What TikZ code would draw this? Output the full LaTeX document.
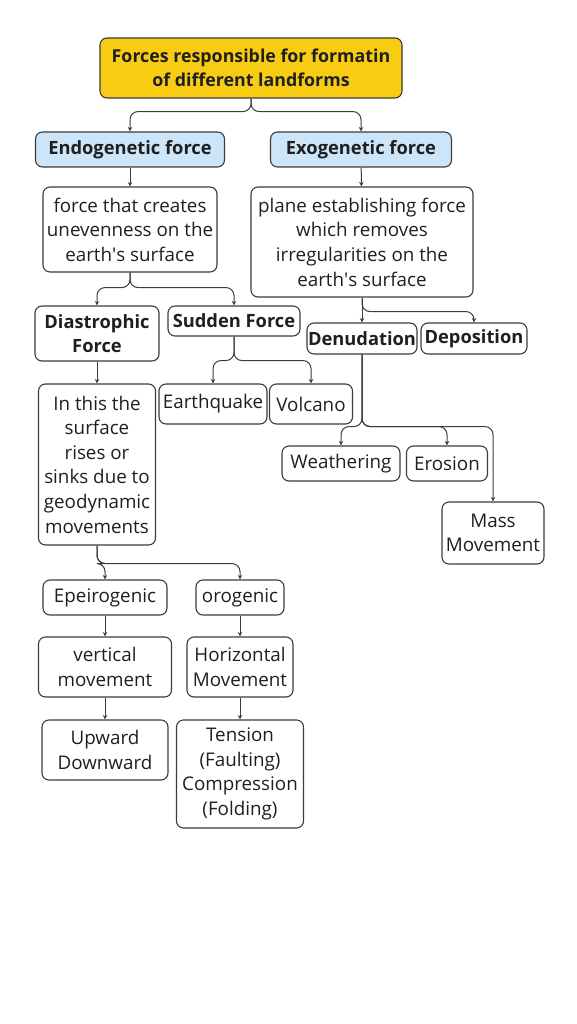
\documentclass[tikz,border=0pt]{standalone}
\usepackage{fontspec}
\setmainfont{Open Sans}
\usepackage{xcolor}
\usetikzlibrary{arrows.meta,positioning}
\definecolor{linegray}{HTML}{3C3C3C}
\definecolor{gold}{HTML}{F9CC14}
\definecolor{softblue}{HTML}{CCE5F8}

\begin{document}
\begin{tikzpicture}[
    x=1pt,y=-1pt,
    box/.style={draw=linegray,line width=1.1pt,rounded corners=7pt,align=center,inner sep=1pt,
      font=\fontsize{18.8}{24.6}\selectfont,text=black!88},
    boldbox/.style={box,font=\fontsize{18.3}{24.6}\selectfont\bfseries},
    topic/.style={boldbox,fill=gold,font=\fontsize{17.8}{24}\selectfont\bfseries},
    kind/.style={boldbox,fill=softblue},
    arr/.style={-{Stealth[length=4.5pt,width=4.5pt]},line width=1pt,draw=linegray},
    fork/.style={arr,rounded corners=8pt}
]
    \useasboundingbox (0,0) rectangle (576,1024);

    \node[topic,minimum width=302,minimum height=60] (title) at (251,68) {Forces responsible for formatin\\of different landforms};
    \node[kind,minimum width=189,minimum height=35] (endo) at (130,149.5) {Endogenetic force};
    \node[kind,minimum width=181,minimum height=35] (exo) at (361,149.5) {Exogenetic force};

    \node[box,minimum width=174,minimum height=85] (uneven) at (130,229.5) {force that creates\\unevenness on the\\earth\textquotesingle s surface};
    \node[box,minimum width=222,minimum height=110] (plane) at (362,242) {plane establishing force\\which removes\\irregularities on the\\earth\textquotesingle s surface};

    \node[boldbox,minimum width=124,minimum height=55] (diast) at (97,333.5) {Diastrophic\\Force};
    \node[boldbox,minimum width=132,minimum height=30] (sudden) at (234,321) {Sudden Force};
    \node[boldbox,minimum width=110,minimum height=31] (denud) at (362,338.5) {Denudation};
    \node[boldbox,minimum width=106,minimum height=31] (depos) at (474,338.5) {Deposition};

    \node[box,minimum width=117,minimum height=161] (inthis) at (97,464.5) {In this the\\surface\\rises or\\sinks due to\\geodynamic\\movements};
    \node[box,minimum width=108,minimum height=40] (quake) at (213,404) {Earthquake};
    \node[box,minimum width=83,minimum height=40] (volcano) at (311,404) {Volcano};

    \node[box,minimum width=118,minimum height=35] (weather) at (341,463.5) {Weathering};
    \node[box,minimum width=81,minimum height=35] (erosion) at (447,463.5) {Erosion};
    \node[box,minimum width=102,minimum height=62] (mass) at (493,533) {Mass\\Movement};

    \node[box,minimum width=124,minimum height=35] (epeiro) at (105,597.5) {Epeirogenic};
    \node[box,minimum width=88,minimum height=35] (orogen) at (240,597.5) {orogenic};
    \node[box,minimum width=133,minimum height=60] (vertical) at (105,667) {vertical\\movement};
    \node[box,minimum width=106,minimum height=60] (horiz) at (240,667) {Horizontal\\Movement};
    \node[box,minimum width=126,minimum height=60] (updown) at (105,750) {Upward\\Downward};
    \node[box,minimum width=127,minimum height=108] (tension) at (240,774) {Tension\\(Faulting)\\Compression\\(Folding)};

    \draw[fork] (title.south) -- ++(0,13) -| (endo.north);
    \draw[fork] (title.south) -- ++(0,13) -| (exo.north);
    \draw[arr] (endo) -- (uneven);
    \draw[arr] (exo) -- (plane);

    \draw[fork] (uneven.south) -- ++(0,15) -| (diast.north);
    \draw[fork] (uneven.south) -- ++(0,15) -| (sudden.north);
    \draw[arr] (plane) -- (denud);
    \draw[fork] (plane.south) -- ++(0,14) -| (depos.north);

    \draw[arr] (diast) -- (inthis);
    \draw[fork] (sudden.south) -- ++(0,24) -| (quake.north);
    \draw[fork] (sudden.south) -- ++(0,24) -| (volcano.north);

    \draw[fork] (denud.south) -- ++(0,72) -| (weather.north);
    \draw[fork] (denud.south) -- ++(0,72) -| (erosion.north);
    \draw[fork] (denud.south) -- ++(0,72) -| (mass.north);

    \draw[fork] (inthis.south) -- ++(0,18) -| (epeiro.north);
    \draw[fork] (inthis.south) -- ++(0,18) -| (orogen.north);
    \draw[arr] (epeiro) -- (vertical);
    \draw[arr] (vertical) -- (updown);
    \draw[arr] (orogen) -- (horiz);
    \draw[arr] (horiz) -- (tension);
\end{tikzpicture}
\end{document}
